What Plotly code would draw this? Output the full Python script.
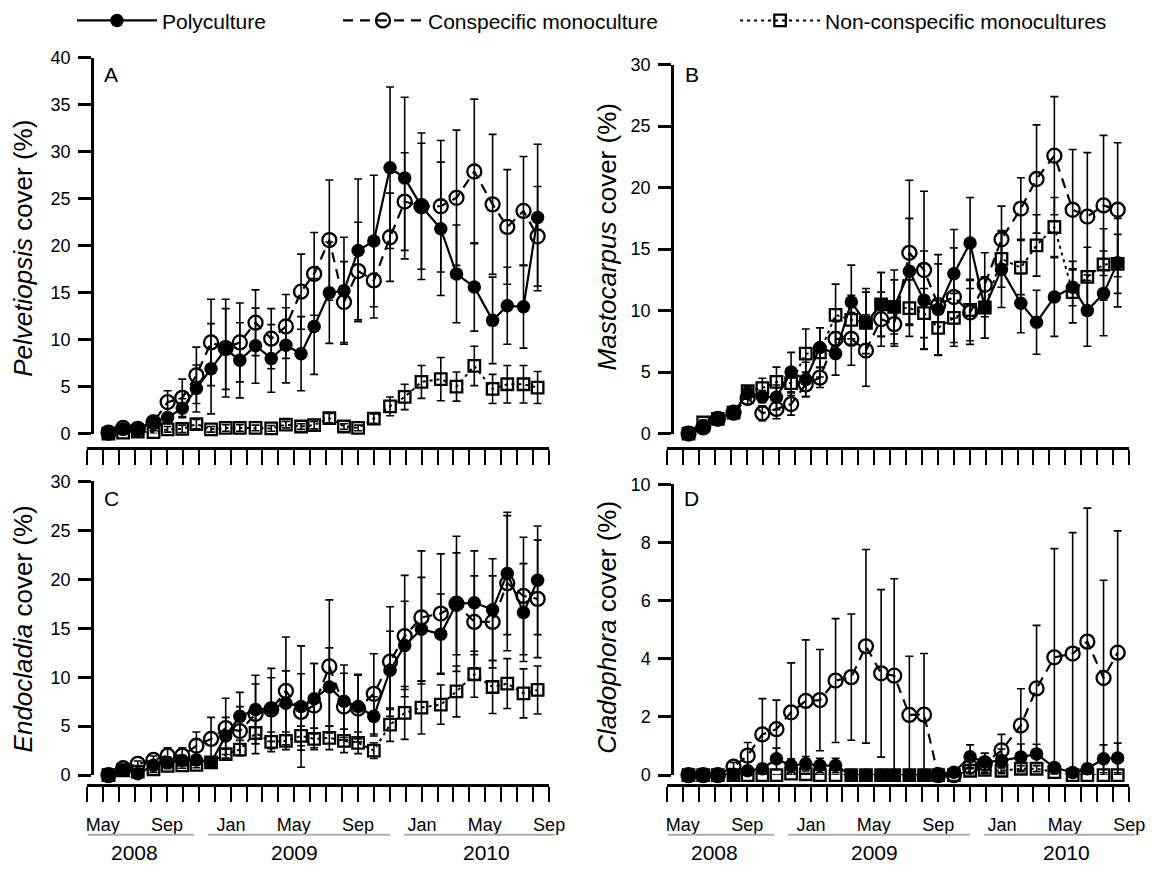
import plotly.graph_objects as go

W, H = 1158, 871

# ---------------- data ----------------
dates = ['2008-05-12', '2008-06-09', '2008-07-07', '2008-08-06', '2008-09-02', '2008-09-30',
         '2008-10-27', '2008-11-24', '2008-12-22', '2009-01-18', '2009-02-17', '2009-03-19',
         '2009-04-16', '2009-05-15', '2009-06-09', '2009-07-08', '2009-08-05', '2009-09-01',
         '2009-10-01', '2009-11-01', '2009-11-29', '2009-12-31', '2010-02-06', '2010-03-08',
         '2010-04-11', '2010-05-16', '2010-06-13', '2010-07-14', '2010-08-10']

series_names = ['Polyculture', 'Conspecific monoculture', 'Non-conspecific monocultures']

# Panel A - Pelvetiopsis
A_poly = [0.0, 0.5, 0.5, 1.3, 1.7, 2.7, 4.8, 6.9, 9.0, 7.8, 9.35, 8.0, 9.4, 8.5, 11.4, 15.0, 15.2, 19.5,
          20.5, 28.3, 27.2, 24.2, 21.8, 17.0, 15.6, 12.05, 13.6, 13.5, 23.0]
A_poly_se = [0.1, 0.1, 0.1, 0.3, 0.5, 1.0, 2.5, 4.8, 4.3, 4.0, 4.0, 3.6, 4.0, 3.95, 5.1, 5.4, 5.7, 7.6,
             7.0, 8.6, 8.6, 7.8, 7.1, 5.2, 4.7, 4.6, 4.1, 4.4, 7.8]
A_con = [0.1, 0.6, 0.5, 1.2, 3.35, 3.8, 6.2, 9.7, 9.1, 9.7, 11.8, 10.1, 11.4, 15.1, 17.0, 20.6, 14.0, 17.3,
         16.3, 20.9, 24.7, 24.2, 24.2, 25.1, 27.9, 24.4, 22.0, 23.7, 21.0]
A_con_se = [0.1, 0.2, 0.2, 0.4, 1.2, 2.0, 3.0, 4.6, 5.2, 4.2, 3.5, 3.2, 3.4, 4.0, 4.4, 6.4, 4.3, 5.2,
            4.0, 4.7, 5.2, 6.7, 7.0, 7.2, 7.7, 7.45, 6.1, 5.8, 5.3]
A_non = [0.0, 0.1, 0.2, 0.15, 0.45, 0.5, 1.0, 0.45, 0.6, 0.6, 0.6, 0.55, 0.95, 0.75, 0.9, 1.65, 0.75, 0.6,
         1.6, 2.9, 3.9, 5.5, 5.8, 5.0, 7.2, 4.75, 5.25, 5.25, 4.9]
A_non_se = [0.05, 0.1, 0.1, 0.15, 0.3, 0.4, 0.5, 0.3, 0.35, 0.35, 0.3, 0.3, 0.35, 0.3, 0.4, 0.5, 0.3, 0.3,
            0.5, 1.0, 1.35, 1.75, 2.3, 1.55, 2.1, 1.55, 2.0, 2.0, 1.7]

# Panel B - Mastocarpus
B_poly = [0.0, 0.5, 1.2, 1.7, 3.3, 3.0, 2.95, 5.0, 4.4, 7.0, 6.5, 10.7, 9.0, 10.5, 10.3, 13.2, 10.85, 10.1,
          13.0, 15.5, 10.25, 13.35, 10.6, 9.05, 11.1, 11.9, 10.0, 11.4, 13.9]
B_poly_se = [0.1, 0.2, 0.2, 0.2, 0.5, 0.5, 1.0, 1.6, 1.4, 1.6, 1.75, 3.0, 2.8, 2.6, 3.0, 4.3, 4.0, 3.7,
             3.6, 3.7, 2.5, 3.1, 2.4, 2.6, 3.2, 1.5, 2.9, 3.45, 3.6]
B_con = [0.0, 0.5, 1.2, 1.7, 2.9, 1.65, 2.0, 2.4, 4.0, 4.55, 7.7, 7.7, 6.75, 9.3, 8.9, 14.7, 13.3, 10.45,
         11.1, 9.85, 12.1, 15.8, 18.3, 20.7, 22.6, 18.2, 17.65, 18.55, 18.2]
B_con_se = [0.1, 0.2, 0.2, 0.2, 0.5, 0.6, 0.8, 0.9, 1.0, 0.8, 1.4, 2.15, 2.9, 2.2, 1.8, 5.9, 6.4, 4.1,
            4.0, 2.6, 2.6, 2.7, 2.5, 4.4, 4.8, 4.9, 5.2, 5.7, 5.45]
B_non = [0.0, 0.9, 1.2, 1.7, 3.45, 3.7, 4.2, 4.1, 6.5, 6.6, 9.65, 9.25, 9.0, 10.5, 10.3, 10.2, 9.8, 8.6,
         9.4, 10.05, 10.25, 14.2, 13.5, 15.3, 16.8, 11.5, 12.75, 13.75, 13.8]
B_non_se = [0.1, 0.2, 0.2, 0.2, 0.4, 0.8, 1.2, 1.0, 2.0, 2.0, 2.5, 2.0, 2.5, 2.6, 2.2, 2.3, 2.0, 2.2,
            2.0, 2.5, 2.5, 2.3, 2.2, 2.5, 2.4, 2.5, 2.4, 2.9, 2.4]

# Panel C - Endocladia
C_poly = [0.0, 0.5, 0.15, 1.0, 1.3, 1.5, 1.55, 1.3, 4.0, 6.0, 6.7, 6.8, 7.35, 7.0, 7.8, 9.0, 7.55, 7.0,
          6.0, 10.7, 13.25, 14.9, 14.4, 17.5, 17.6, 16.9, 20.6, 16.6, 19.9]
C_poly_se = [0.1, 0.2, 0.2, 0.3, 0.5, 0.5, 0.5, 0.4, 1.9, 2.45, 3.5, 4.1, 3.3, 6.2, 3.6, 4.0, 3.7, 3.3,
             2.0, 4.0, 4.5, 5.3, 4.1, 6.9, 5.3, 5.2, 6.25, 5.0, 5.55]
C_con = [0.0, 0.7, 1.15, 1.55, 2.0, 2.0, 3.0, 3.7, 4.8, 4.5, 6.25, 6.7, 8.6, 6.45, 7.1, 11.1, 7.0, 6.8,
         8.3, 11.6, 14.2, 16.1, 16.5, 17.5, 15.65, 15.65, 19.6, 18.3, 18.0]
C_con_se = [0.1, 0.2, 0.3, 0.4, 0.8, 0.8, 1.4, 2.2, 3.05, 2.5, 3.05, 3.25, 5.5, 3.9, 4.3, 6.8, 3.4, 3.4,
            4.1, 5.6, 6.2, 6.8, 6.1, 5.2, 4.7, 4.7, 6.9, 6.0, 6.0]
C_non = [0.0, 0.5, 0.35, 0.6, 0.95, 1.0, 1.05, 1.3, 2.15, 2.6, 4.3, 3.4, 3.5, 4.0, 3.7, 3.8, 3.5, 3.3,
         2.5, 5.15, 6.35, 6.9, 7.2, 8.55, 10.3, 9.0, 9.35, 8.35, 8.7]
C_non_se = [0.05, 0.2, 0.2, 0.3, 0.3, 0.3, 0.3, 0.3, 0.5, 0.6, 2.1, 1.0, 0.9, 1.0, 1.1, 1.2, 1.2, 1.1,
            0.8, 1.7, 2.7, 2.7, 2.0, 2.6, 2.35, 2.7, 2.55, 2.5, 2.45]

# Panel D - Cladophora
D_poly = [0, 0, 0, 0.03, 0.15, 0.22, 0.56, 0.33, 0.39, 0.33, 0.33, 0, 0, 0, 0, 0, 0, 0,
          0.1, 0.63, 0.45, 0.5, 0.62, 0.73, 0.26, 0.09, 0.22, 0.56, 0.59]
D_poly_se = [0, 0, 0, 0.03, 0.1, 0.15, 0.37, 0.23, 0.25, 0.25, 0.25, 0, 0, 0, 0, 0, 0, 0,
             0.08, 0.41, 0.3, 0.4, 0.45, 0.33, 0.15, 0.08, 0.15, 0.48, 0.51]
D_con = [0, 0, 0, 0.29, 0.67, 1.4, 1.58, 2.16, 2.55, 2.58, 3.25, 3.37, 4.43, 3.5, 3.42, 2.07, 2.08, 0,
         0, 0.3, 0.4, 0.85, 1.71, 2.98, 4.05, 4.18, 4.59, 3.34, 4.21]
D_con_se = [0, 0, 0, 0.15, 0.45, 1.23, 1.0, 1.7, 2.1, 1.74, 2.13, 2.17, 3.33, 2.88, 3.33, 2.02, 2.1, 0,
            0, 0.4, 0.35, 0.55, 1.26, 2.17, 3.74, 4.16, 4.59, 3.36, 4.19]
D_non = [0, 0, 0, 0, 0, 0, 0, 0.05, 0.03, 0, 0, 0, 0, 0, 0, 0, 0, 0,
         0, 0.15, 0.18, 0.15, 0.22, 0.22, 0.1, 0, 0, 0, 0]
D_non_se = [0, 0, 0, 0, 0, 0, 0, 0.05, 0.03, 0, 0, 0, 0, 0, 0, 0, 0, 0,
            0, 0.1, 0.1, 0.1, 0.1, 0.1, 0.06, 0, 0, 0, 0]

panel_letters = ['A', 'B', 'C', 'D']
y_titles = ['<i>Pelvetiopsis</i> cover (%)', '<i>Mastocarpus</i> cover (%)',
            '<i>Endocladia</i> cover (%)', '<i>Cladophora</i> cover (%)']
y_max = [40, 30, 30, 10]
y_step = [5, 5, 5, 2]
years = ['2008', '2009', '2010']
month_abbr = {1: 'Jan', 5: 'May', 9: 'Sep'}

panel_data = [
    (A_poly, A_poly_se, A_con, A_con_se, A_non, A_non_se),
    (B_poly, B_poly_se, B_con, B_con_se, B_non, B_non_se),
    (C_poly, C_poly_se, C_con, C_con_se, C_non, C_non_se),
    (D_poly, D_poly_se, D_con, D_con_se, D_non, D_non_se),
]

# ---------------- layout geometry (pixels) ----------------
FONT = 'Liberation Sans, Arial, Helvetica, sans-serif'
col_x0 = [87.3, 676.0]      # x-axis start
col_w = 469.0
yaxis_x = [92.3, 681.0]
row_y0 = [433.0, 783.0]     # pixel of y=0
row_top = [[48.0, 55.0], [482.0, 485.0]]
xaxis_y = [448.0, 793.0]


def fx(p):
    return p / W


def fy(p):
    return 1 - p / H


# monthly ticks
tick_vals, tick_text = [], []
yy, mm = 2008, 4
while (yy, mm) <= (2010, 9):
    tick_vals.append(f'{yy}-{mm:02d}-01')
    tick_text.append(month_abbr.get(mm, ''))
    mm += 1
    if mm > 12:
        mm, yy = 1, yy + 1

fig = go.Figure()

styles = [
    dict(line=dict(color='black', width=2.2), marker=dict(symbol='circle', size=13.5, color='black',
                                                        line=dict(color='black', width=0))),
    dict(line=dict(color='black', width=2.2, dash='10px,7px'),
         marker=dict(symbol='circle-open', size=14, color='black', line=dict(color='black', width=2.3))),
    dict(line=dict(color='black', width=2.0, dash='3px,4px'),
         marker=dict(symbol='square-open', size=11.5, color='black', line=dict(color='black', width=2.3))),
]
legend_ids = ['legend', 'legend2', 'legend3']
draw_order = [1, 0, 2]

for k in range(4):
    r, c = divmod(k, 2)
    ax = '' if k == 0 else str(k + 1)
    vals = panel_data[k]
    for s in draw_order:
        y = vals[2 * s]
        se = vals[2 * s + 1]
        fig.add_trace(go.Scatter(
            x=dates, y=y, mode='lines+markers', name=series_names[s],
            xaxis='x' + ax, yaxis='y' + ax, cliponaxis=False,
            error_y=dict(type='data', array=se, visible=True, color='black', thickness=1.6, width=4),
            showlegend=(k == 0), legend=legend_ids[s],
            **styles[s]))

    xa = dict(domain=[fx(col_x0[c]), fx(col_x0[c] + col_w)], anchor='free', position=fy(xaxis_y[r]),
              type='date', range=['2008-04-01', '2010-09-01'], tickmode='array', tickvals=tick_vals,
              ticktext=tick_text if r == 1 else [''] * len(tick_vals),
              ticks='outside', ticklen=15, tickwidth=2.2, tickcolor='black',
              showline=True, linewidth=2.5, linecolor='black', showgrid=False, zeroline=False,
              tickfont=dict(family=FONT, size=18, color='black'), ticklabelstandoff=8,
              fixedrange=True)
    ya = dict(domain=[fy(row_y0[r]), fy(row_top[r][c])], anchor='free', position=fx(yaxis_x[c]),
              range=[0, y_max[k]], tickmode='linear', tick0=0, dtick=y_step[k],
              ticks='outside', ticklen=13, tickwidth=2.5, tickcolor='black',
              showline=True, linewidth=2.5, linecolor='black', showgrid=False, zeroline=False,
              tickfont=dict(family=FONT, size=18, color='black'), ticklabelstandoff=4,
              fixedrange=True)
    fig.layout['xaxis' + ax] = xa
    fig.layout['yaxis' + ax] = ya

annotations = []
# panel letters
letter_pos = [(103, 65), (692, 65), (103, 500), (691, 500)]
for k in range(4):
    annotations.append(dict(text=panel_letters[k], x=fx(letter_pos[k][0]), y=fy(letter_pos[k][1]),
                            xref='paper', yref='paper', xanchor='left', yanchor='middle',
                            showarrow=False, font=dict(family=FONT, size=21, color='black')))
# y titles
title_pos = [(22, 243), (615, 231), (22, 633), (615, 631)]
for k in range(4):
    annotations.append(dict(text=y_titles[k], x=fx(title_pos[k][0]), y=fy(title_pos[k][1]),
                            xref='paper', yref='paper', xanchor='center', yanchor='middle',
                            textangle=-90, showarrow=False, font=dict(family=FONT, size=26, color='black')))

shapes = []
year_line_px = [(88, 196), (210, 395), (409, 562)]
year_label_px = [135, 298, 493]
for c in range(2):
    off = col_x0[c] - col_x0[0]
    for i, yr in enumerate(years):
        x0, x1 = year_line_px[i]
        shapes.append(dict(type='line', xref='paper', yref='paper', x0=fx(x0 + off), x1=fx(x1 + off),
                           y0=fy(844), y1=fy(844), line=dict(color='#b0b0b0', width=2)))
        annotations.append(dict(text=yr, x=fx(year_label_px[i] + off), y=fy(862), xref='paper',
                                yref='paper', xanchor='center', yanchor='middle', showarrow=False,
                                font=dict(family=FONT, size=21, color='black')))

legend_common = dict(orientation='h', yanchor='middle', xanchor='left', bgcolor='rgba(0,0,0,0)',
                     font=dict(family=FONT, size=21, color='black'), itemwidth=80, borderwidth=0)
fig.update_layout(
    width=W, height=H, margin=dict(l=0, r=0, t=0, b=0), autosize=False,
    paper_bgcolor='white', plot_bgcolor='rgba(0,0,0,0)',
    font=dict(family=FONT, color='black'),
    annotations=annotations, shapes=shapes,
    legend=dict(x=fx(72), y=fy(10), **legend_common),
    legend2=dict(x=fx(342), y=fy(10), **legend_common),
    legend3=dict(x=fx(745), y=fy(10), **legend_common),
)

fig.write_html('out.html')
